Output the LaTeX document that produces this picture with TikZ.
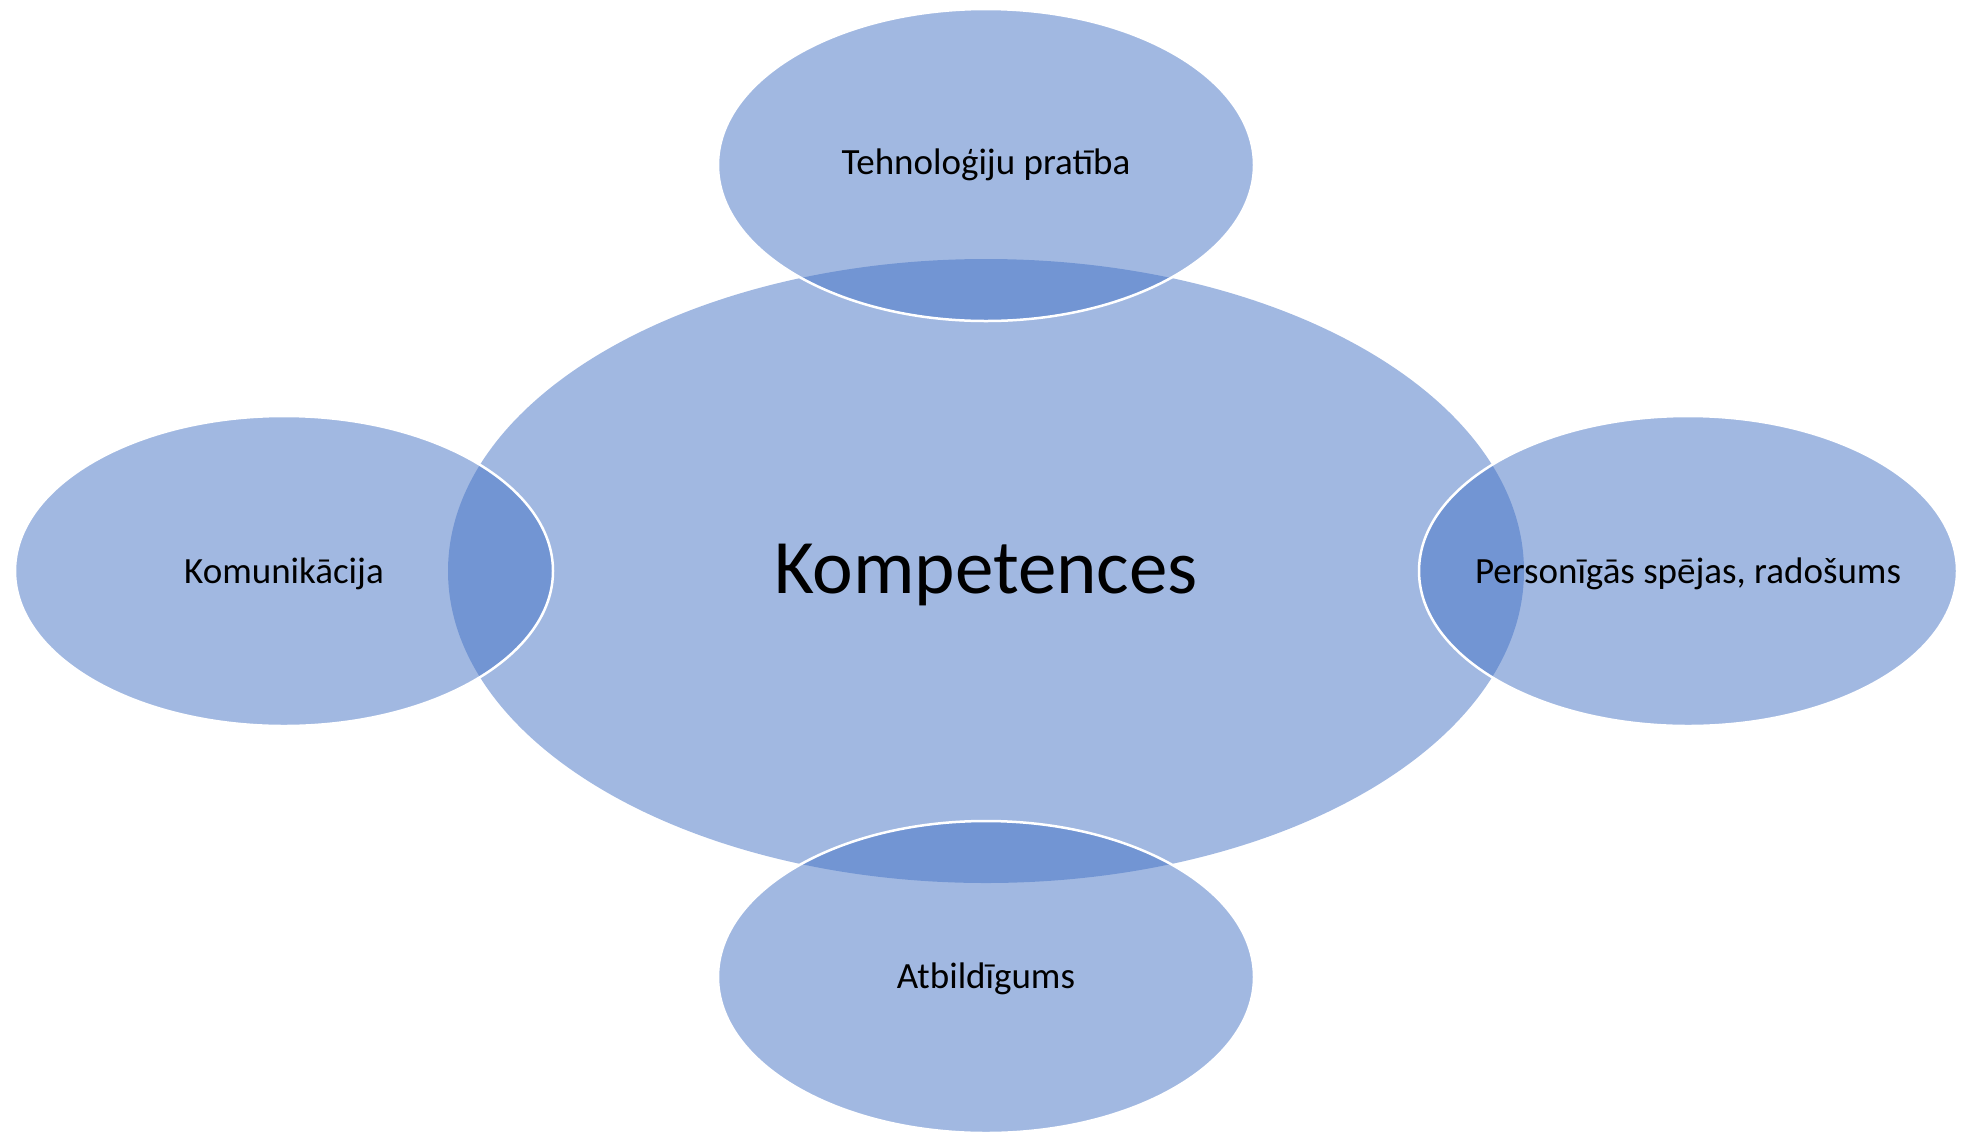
\documentclass[tikz,border=0pt]{standalone}
\usepackage{fontspec}
\setmainfont{Carlito}
\definecolor{accent}{RGB}{68,114,196}
\begin{document}
\begin{tikzpicture}[x=1pt,y=-1pt,
  blob/.style={fill=accent,fill opacity=0.5},
  sat/.style={blob,draw=white,draw opacity=1,line width=2.5pt},
  lbl/.style={text=black,font=\fontsize{37}{44}\selectfont,inner sep=0pt,anchor=base},
  big/.style={text=black,font=\fontsize{77}{92}\selectfont,inner sep=0pt,anchor=base}]
\useasboundingbox (0,0) rectangle (1965,1136);
% central ellipse
\fill[blob] (986,571) ellipse [x radius=538pt, y radius=312pt];
% satellites
\path[sat] (986,165) ellipse [x radius=268pt, y radius=156pt];
\path[sat] (284,571) ellipse [x radius=269pt, y radius=155pt];
\path[sat] (1688,571) ellipse [x radius=269pt, y radius=155pt];
\path[sat] (986,977) ellipse [x radius=268pt, y radius=156pt];
% labels
\node[big] (center) at (986,593) {Kompetences};
\node[lbl] (top) at (986,174) {Tehnoloģiju pratība};
\node[lbl] (left) at (284,583) {Komunikācija};
\node[lbl] (right) at (1688,583) {Personīgās spējas, radošums};
\node[lbl] (bottom) at (986,988) {Atbildīgums};
\end{tikzpicture}
\end{document}
